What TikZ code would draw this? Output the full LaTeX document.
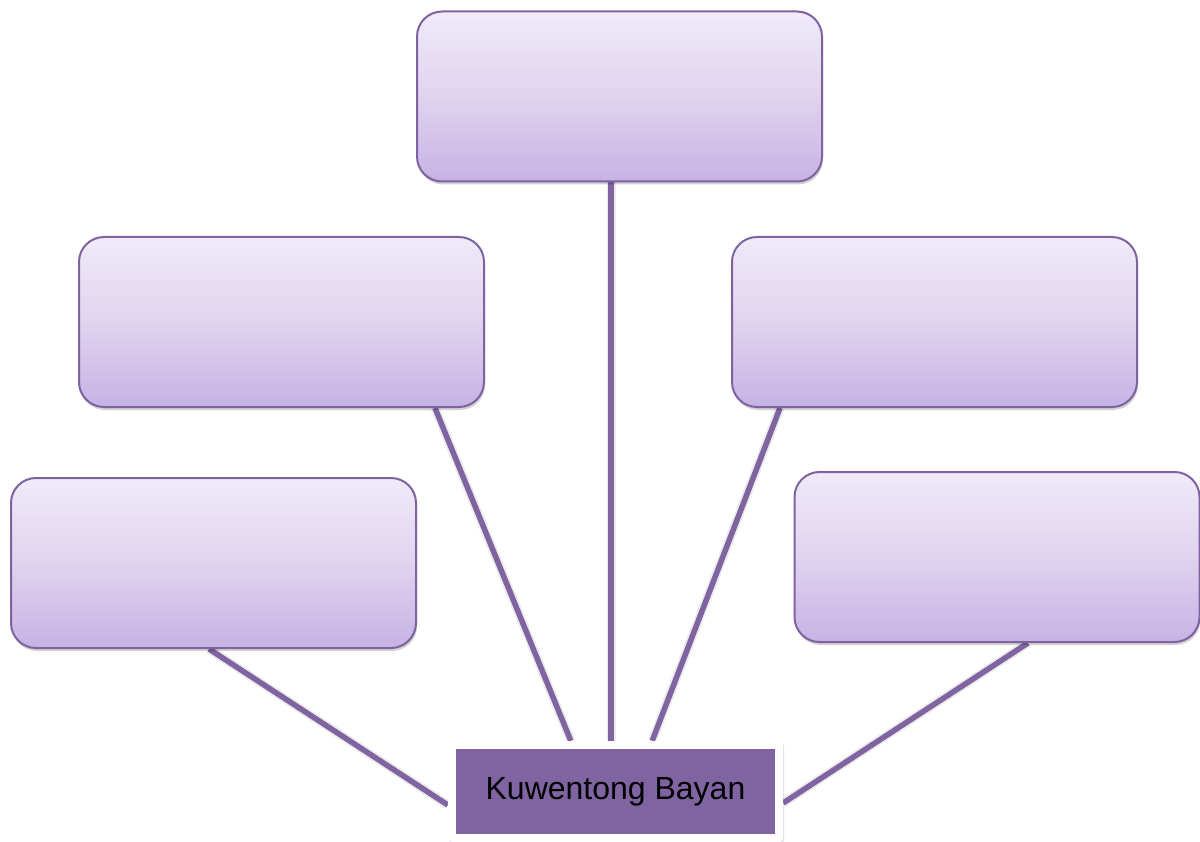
\documentclass[tikz,border=0pt]{standalone}
\usepackage{fontspec}
\setmainfont{Liberation Sans}
\usetikzlibrary{shadows,backgrounds}
\definecolor{edge}{HTML}{7F63A1}
\definecolor{purp}{HTML}{8064A2}
\definecolor{gtop}{HTML}{F0EAF9}
\definecolor{gmid}{HTML}{E0D3EF}
\definecolor{gbot}{HTML}{C6B3E4}
\tikzset{
  leaf/.style={draw=edge, line width=2pt, rounded corners=25pt,
    minimum width=405pt, minimum height=170pt, inner sep=0pt,
    top color=gtop, bottom color=gbot, middle color=gmid,
    drop shadow={shadow xshift=1pt, shadow yshift=-3pt, opacity=0.18, fill=black}},
  link/.style={draw=purp, line width=5.5pt,
    preaction={draw=black, opacity=0.08, line width=9pt}},
  outerbox/.style={fill=white, draw=none, rounded corners=4pt, minimum width=335pt, minimum height=101pt, inner sep=0pt,
    drop shadow={shadow xshift=1pt, shadow yshift=-1.5pt, opacity=0.12, fill=black}},
  innerbox/.style={fill=purp, draw=none, minimum width=319pt, minimum height=85pt, inner sep=0pt,
    font=\fontsize{32}{38}\selectfont, text=black}
}
\begin{document}
\begin{tikzpicture}[x=1pt,y=-1pt]
\useasboundingbox (0,0) rectangle (1200,842);
\node[leaf] (top) at (619.5,96.5) {};
\node[leaf] (lm) at (281.5,322) {};
\node[leaf] (rm) at (934.5,322) {};
\node[leaf] (lb) at (213.5,563) {};
\node[leaf] (rb) at (997,557) {};
\node[outerbox] (outer) at (615.5,791.5) {};
\node[innerbox] (center) at (615.5,791.5) {Kuwentong Bayan};
\begin{scope}[on background layer]
\fill[white] (0,0) rectangle (1200,842);
\draw[link] ([xshift=-8.5pt]top.south) -- ([xshift=-4.5pt]outer.north);
\draw[link] ([xshift=-50pt]lm.south east) -- ([xshift=123pt]outer.north west);
\draw[link] ([xshift=49pt]rm.south west) -- ([xshift=-131pt]outer.north east);
\draw[link] ([xshift=-4.5pt]lb.south) -- ([yshift=-13.5pt]outer.west);
\draw[link] ([xshift=31pt]rb.south) -- ([yshift=-11.5pt]outer.east);
\end{scope}
\end{tikzpicture}
\end{document}
